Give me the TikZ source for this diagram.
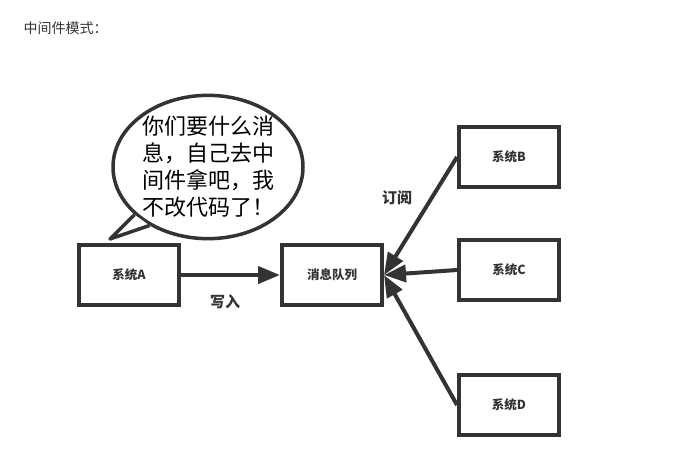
\documentclass[tikz,border=0pt]{standalone}
\usepackage{fontspec}
\usepackage{tikz}
\usetikzlibrary{arrows.meta,shapes.geometric}
\newfontfamily\cjk{Noto Sans CJK SC}
\definecolor{linegray}{HTML}{333333}

\begin{document}
\begin{tikzpicture}[x=1pt,y=-1pt,
    sysbox/.style={draw=linegray, line width=4pt, minimum width=100pt, minimum height=60pt, inner sep=0pt, font=\cjk\bfseries\fontsize{12.5}{14}\selectfont, text=linegray},
    flow/.style={draw=linegray, line width=4pt, -{Triangle[length=22pt,width=17pt]}},
    lbl/.style={font=\cjk\bfseries\fontsize{15}{17}\selectfont, text=linegray}]
                \useasboundingbox (0,0) rectangle (684,469);
                \node[anchor=west, font=\cjk\fontsize{14}{16}\selectfont, text=linegray] (title) at (20,28) {中间件模式：};
                % boxes
                \node[sysbox] (sysA) at (129,275) {系统A};
                \node[sysbox] (mq) at (332,275) {消息队列};
                \node[sysbox] (sysB) at (509,157) {系统B};
                \node[sysbox] (sysC) at (509,270) {系统C};
                \node[sysbox] (sysD) at (509,405) {系统D};
                % speech bubble
                \node[ellipse, draw=linegray, line width=3.5pt, minimum width=190pt, minimum height=138pt, inner sep=0pt, align=center, font=\cjk\fontsize{22}{27}\selectfont] (bubble) at (208,167) {你们要什么消\\息，自己去中\\间件拿吧，我\\不改代码了！};
                \coordinate (tip) at (110,239);
                \fill[white] (bubble.213) -- (tip) -- (bubble.225) -- cycle;
                \draw[linegray, line width=3.5pt, line join=round] (bubble.213) -- (tip) -- (bubble.225);
                % arrows
                \draw[flow] (sysA.east) -- (mq.west);
                \draw[flow] (sysB.west) -- (mq.east);
                \draw[flow] (sysC.west) -- (mq.east);
                \draw[flow] (sysD.west) -- (mq.east);
                \node[lbl] (write) at (225,302) {写入};
                \node[lbl] (sub) at (397,198) {订阅};
\end{tikzpicture}
\end{document}
